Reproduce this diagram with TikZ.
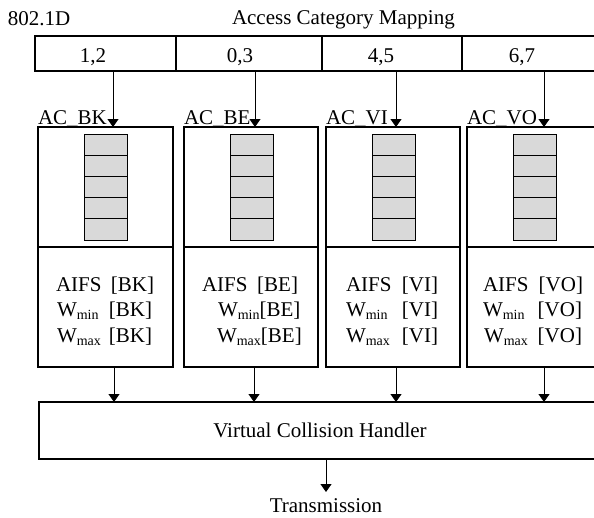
\documentclass[tikz,border=0pt]{standalone}
\usepackage{fontspec}
\setmainfont{Liberation Serif}
\usetikzlibrary{arrows.meta}
\begin{document}
\begin{tikzpicture}[x=1pt,y=-1pt,
  every node/.style={inner sep=0pt,outer sep=0pt,font=\fontsize{21}{25}\selectfont},
  line/.style={line width=1.1pt,draw=black},
  flow/.style={line width=1pt,-{Triangle[width=11pt,length=8pt]}},
  cell/.style={line width=0.9pt,draw=black,fill=black!15}]
\useasboundingbox (0,0) rectangle (594,517);
\begin{scope}
\clip (0,0) rectangle (594,517);

% titles
\node[anchor=base west] (std) at (8,25) {802.1D};
\node[anchor=base west] (title) at (232,24) {Access Category Mapping};

% mapping row
\draw[line] (35,36) rectangle (610,71);
\draw[line] (176,36) -- (176,71) (322,36) -- (322,71) (462,36) -- (462,71);
\node[anchor=base] (m1) at (93,62) {1,2};
\node[anchor=base] (m2) at (240,62) {0,3};
\node[anchor=base] (m3) at (381,62) {4,5};
\node[anchor=base] (m4) at (522,62) {6,7};
\coordinate (t1) at (113,71);
\coordinate (t2) at (255,71);
\coordinate (t3) at (396,71);
\coordinate (t4) at (544,71);

% access category boxes with their queues
\foreach \name/\l/\r/\lab in {bk/38/173/BK, be/184/318/BE, vi/326/460/VI, vo/467/602/VO}{
  \draw[line] (\l,127) rectangle (\r,367);
  \draw[line] (\l,247) -- (\r,247);
  \node[anchor=base west] (\name lab) at (\l,124) {AC\_\lab};
  \pgfmathsetmacro{\qc}{(\l+\r)/2+0.5}
  \foreach \k in {0,...,4}{
    \draw[cell] (\qc-21.5,134+21.2*\k) rectangle (\qc+21.5,134+21.2*\k+21.2);
  }
}

% parameter lines
\newcommand{\wsub}[1]{W\raisebox{-3.5pt}{\fontsize{14}{16}\selectfont #1}}
\node[anchor=base west] (p1a) at (56,291) {AIFS};
\node[anchor=base east] (p1b) at (154,291) {[BK]};
\node[anchor=base west] (p1c) at (57,316) {\wsub{min}};
\node[anchor=base east] (p1d) at (152,316) {[BK]};
\node[anchor=base west] (p1e) at (57,342) {\wsub{max}};
\node[anchor=base east] (p1f) at (152,342) {[BK]};

\node[anchor=base west] (p2a) at (202,291) {AIFS};
\node[anchor=base east] (p2b) at (298,291) {[BE]};
\node[anchor=base west] (p2c) at (218,316) {\wsub{min}[BE]};
\node[anchor=base west] (p2e) at (217,342) {\wsub{max}[BE]};

\node[anchor=base west] (p3a) at (346,291) {AIFS};
\node[anchor=base east] (p3b) at (438,291) {[VI]};
\node[anchor=base west] (p3c) at (346,316) {\wsub{min}};
\node[anchor=base east] (p3d) at (438,316) {[VI]};
\node[anchor=base west] (p3e) at (346,342) {\wsub{max}};
\node[anchor=base east] (p3f) at (438,342) {[VI]};

\node[anchor=base west] (p4a) at (483,291) {AIFS};
\node[anchor=base east] (p4b) at (583,291) {[VO]};
\node[anchor=base west] (p4c) at (483,316) {\wsub{min}};
\node[anchor=base east] (p4d) at (582,316) {[VO]};
\node[anchor=base west] (p4e) at (484,342) {\wsub{max}};
\node[anchor=base east] (p4f) at (582,342) {[VO]};

% handler
\draw[line] (39,402) rectangle (620,459);
\node[anchor=base] (vch) at (320,437) {Virtual Collision Handler};
\node[anchor=base] (tx) at (326,512) {Transmission};

% connectors
\draw[flow] (t1) -- (113,127);
\draw[flow] (t2) -- (255,127);
\draw[flow] (t3) -- (396,127);
\draw[flow] (t4) -- (544,127);
\draw[flow] (114,367) -- (114,402);
\draw[flow] (254,367) -- (254,402);
\draw[flow] (396,367) -- (396,402);
\draw[flow] (544,367) -- (544,402);
\draw[flow] (326,459) -- (326,492);
\end{scope}
\end{tikzpicture}
\end{document}
